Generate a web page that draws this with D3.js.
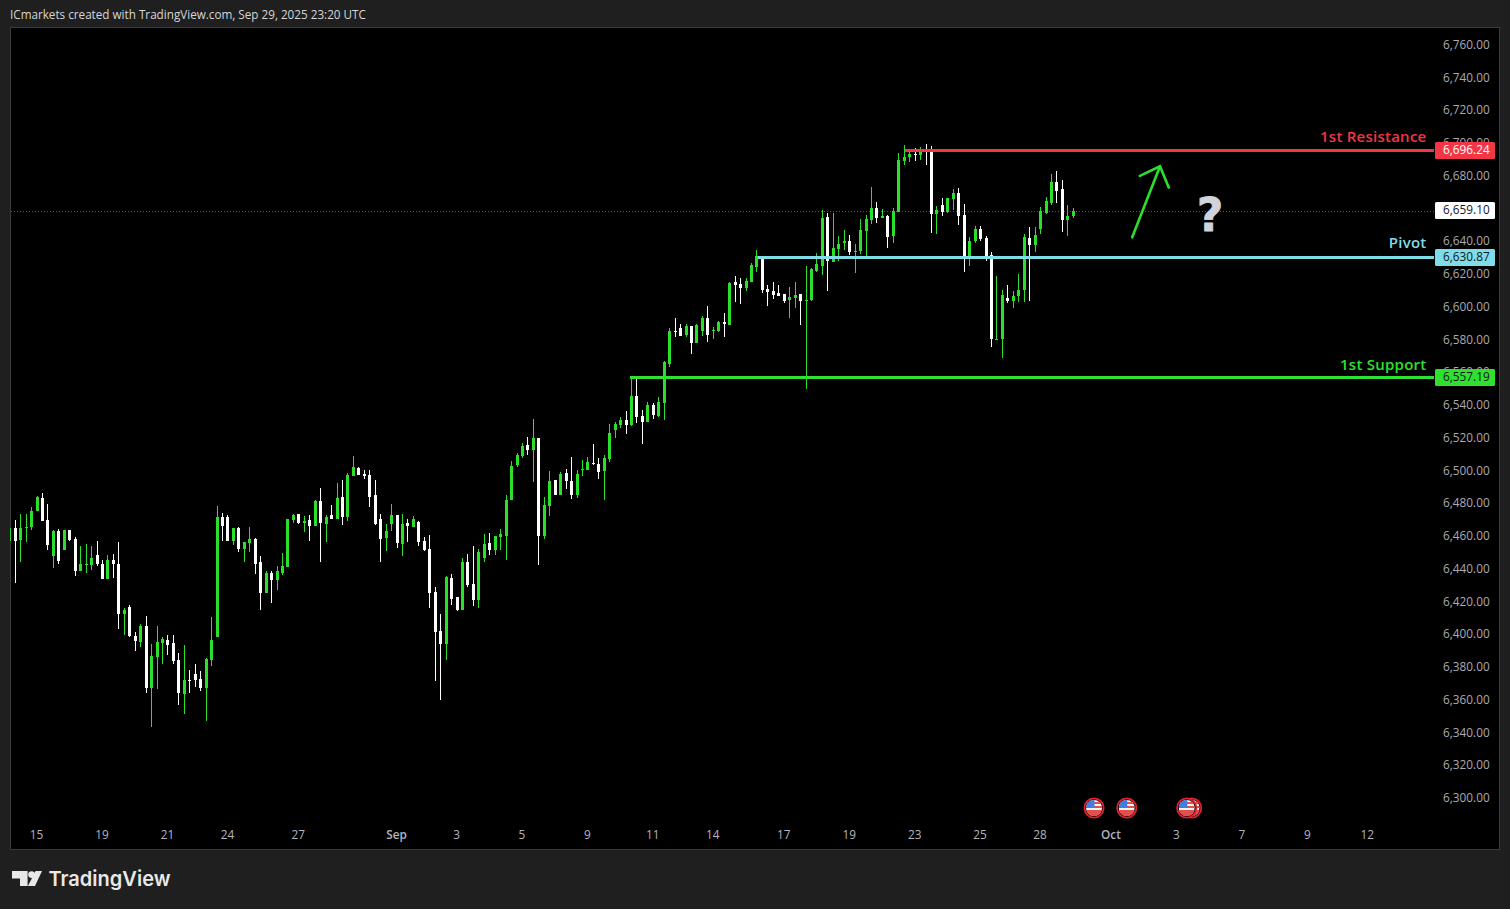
<!DOCTYPE html>
<html><head><meta charset="utf-8">
<script src="https://cdn.jsdelivr.net/npm/d3@7"></script>
<style>
html,body{margin:0;padding:0;background:#1f1f1f;overflow:hidden}
svg{display:block}
text{font-family:"Open Sans","Noto Sans",sans-serif}
</style></head><body><svg id="c" width="1510" height="909"></svg>
<script>
const opens=[6457.5,6465.4,6458.1,6465.4,6466.0,6475.8,6483.7,6470.3,6448.3,6463.6,
6452.0,6464.2,6458.7,6439.1,6442.8,6442.8,6448.9,6443.4,6434.3,6445.9,
6443.4,6412.9,6417.2,6399.5,6395.8,6405.6,6367.7,6386.6,6395.2,6397.0,
6395.2,6384.8,6364.1,6372.6,6376.3,6373.2,6367.7,6384.8,6398.9,6472.1,
6472.1,6457.5,6465.4,6452.6,6456.3,6458.7,6444.7,6425.8,6438.0,6433.7,
6438.0,6441.7,6470.4,6474.0,6468.5,6470.4,6466.7,6482.0,6467.9,6473.4,
6471.0,6484.4,6472.2,6497.2,6502.1,6498.4,6497.8,6485.6,6471.0,6459.3,
6467.9,6473.4,6455.7,6468.5,6466.0,6469.1,6457.5,6452.6,6426.4,6402.6,
6394.6,6434.9,6423.3,6415.4,6444.7,6431.3,6421.5,6447.1,6456.3,6452.0,
6460.0,6460.6,6482.6,6503.9,6509.4,6516.1,6513.1,6520.4,6460.6,6478.9,
6494.8,6485.6,6499.0,6494.2,6485.6,6500.9,6500.9,6505.1,6504.5,6500.3,
6507.6,6525.3,6528.3,6531.4,6528.3,6546.0,6533.8,6530.1,6540.5,6533.8,
6541.8,6565.6,6585.7,6587.5,6583.3,6588.8,6578.4,6585.7,6593.6,6585.7,
6585.7,6591.2,6589.4,6615.6,6614.4,6612.0,6615.6,6624.8,6630.3,6611.4,
6610.1,6608.9,6608.3,6604.6,6605.9,6608.3,6604.0,6604.6,6622.3,6625.4,
6655.3,6627.8,6635.8,6639.4,6640.6,6633.9,6634.5,6646.7,6653.5,6660.8,
6654.7,6655.9,6643.7,6658.3,6689.5,6691.9,6693.8,6693.1,6695.6,6695.6,
6657.1,6662.6,6658.3,6666.3,6670.0,6656.5,6630.3,6640.6,6648.0,6642.5,
6632.1,6580.2,6580.8,6605.9,6604.0,6607.1,6610.7,6642.5,6638.2,6648.0,
6657.7,6663.8,6676.7,6672.4,6653.5,6655.9];
const closes=[6465.2,6457.5,6465.4,6466.0,6475.8,6484.3,6469.7,6455.0,6463.6,6445.2,
6464.2,6458.1,6439.1,6443.4,6443.4,6447.1,6443.4,6434.3,6445.9,6443.4,
6412.9,6415.3,6399.5,6396.4,6405.6,6367.7,6387.3,6395.8,6397.6,6394.0,
6384.2,6364.7,6372.6,6372.0,6372.6,6367.7,6385.4,6397.0,6472.1,6466.6,
6457.5,6465.4,6452.6,6456.9,6458.7,6443.5,6425.8,6438.0,6433.7,6439.2,
6442.2,6471.0,6473.4,6468.5,6469.8,6466.7,6482.0,6468.5,6472.2,6471.0,
6483.8,6472.2,6497.8,6502.7,6497.8,6497.2,6484.4,6467.9,6458.7,6463.6,
6473.4,6456.3,6467.9,6466.7,6471.0,6456.9,6452.0,6425.8,6402.0,6394.6,
6435.5,6422.1,6415.4,6444.7,6430.7,6421.5,6450.8,6455.7,6452.0,6460.6,
6461.8,6482.6,6503.3,6510.0,6515.5,6513.1,6520.4,6460.6,6479.5,6494.2,
6485.6,6498.4,6494.2,6485.6,6498.4,6501.5,6505.8,6504.5,6499.6,6508.2,
6523.5,6529.0,6531.4,6528.3,6546.0,6533.2,6530.1,6540.5,6534.4,6542.4,
6566.8,6585.7,6585.1,6582.6,6588.8,6578.4,6589.4,6593.6,6583.3,6586.3,
6591.2,6590.0,6615.0,6613.8,6612.0,6616.2,6626.0,6631.5,6610.7,6609.5,
6607.7,6607.1,6604.0,6606.4,6607.7,6604.0,6604.6,6623.6,6626.6,6654.7,
6628.4,6636.4,6638.8,6640.6,6633.9,6634.5,6647.4,6654.1,6660.8,6654.7,
6655.9,6643.1,6659.0,6690.1,6691.9,6693.8,6693.1,6695.6,6695.0,6657.1,
6659.6,6658.3,6666.9,6670.0,6655.9,6630.3,6640.6,6648.0,6641.9,6631.5,
6580.8,6580.8,6607.7,6604.0,6607.1,6610.7,6643.1,6638.2,6644.3,6659.0,
6665.1,6676.7,6671.2,6653.5,6655.9,6659.1];
const highs=[6465.2,6470.3,6473.9,6473.9,6478.0,6484.9,6486.8,6480.0,6464.2,6464.8,
6464.2,6464.2,6459.9,6454.4,6455.6,6454.4,6457.5,6445.9,6448.9,6449.5,
6456.8,6416.6,6418.4,6401.9,6406.8,6411.7,6394.6,6405.6,6398.9,6400.1,
6400.1,6389.1,6394.0,6378.7,6382.4,6378.1,6386.0,6411.1,6478.8,6474.6,
6473.3,6465.4,6466.0,6456.9,6466.0,6459.3,6448.3,6439.2,6439.2,6442.2,
6450.2,6471.0,6474.0,6474.0,6472.8,6473.4,6482.6,6489.9,6473.4,6479.5,
6493.0,6494.8,6499.0,6509.4,6502.7,6500.9,6500.9,6494.8,6474.0,6467.9,
6480.1,6473.4,6474.0,6471.0,6472.8,6469.7,6459.9,6461.2,6429.4,6413.0,
6436.2,6437.4,6423.3,6447.1,6449.6,6454.5,6452.6,6461.8,6462.4,6460.6,
6464.9,6485.6,6506.4,6511.2,6517.4,6521.0,6532.0,6520.4,6484.4,6500.3,
6494.8,6499.6,6501.5,6508.8,6500.9,6507.0,6508.8,6516.7,6508.2,6510.0,
6529.0,6530.2,6533.2,6536.9,6557.6,6557.6,6537.5,6542.4,6541.8,6545.4,
6567.4,6587.5,6593.6,6590.0,6590.0,6588.8,6590.0,6594.9,6601.0,6588.1,
6591.8,6596.7,6615.6,6619.3,6618.0,6618.0,6627.2,6635.2,6630.9,6613.8,
6615.6,6613.8,6608.3,6612.6,6615.6,6608.3,6625.4,6624.2,6633.3,6659.6,
6657.7,6657.7,6643.7,6647.4,6644.3,6638.8,6654.1,6656.5,6673.6,6664.4,
6660.2,6656.5,6660.8,6694.4,6699.2,6696.8,6697.4,6698.0,6699.9,6698.6,
6662.0,6666.9,6666.9,6672.4,6673.0,6663.2,6643.1,6649.8,6649.8,6643.7,
6633.9,6619.3,6610.7,6613.8,6610.1,6620.5,6644.9,6649.2,6649.2,6661.4,
6667.5,6681.6,6683.4,6677.9,6662.6,6660.8];
const lows=[6457.5,6432.0,6444.8,6456.8,6464.2,6475.8,6469.7,6452.0,6441.0,6443.4,
6452.0,6457.5,6436.1,6439.1,6437.9,6439.8,6442.2,6434.3,6434.3,6434.9,
6403.7,6400.1,6398.9,6390.3,6392.7,6364.7,6343.9,6367.1,6382.4,6387.9,
6382.4,6357.3,6351.8,6364.7,6368.3,6365.9,6347.6,6381.1,6398.9,6457.5,
6457.5,6455.1,6450.8,6444.7,6450.8,6437.4,6415.4,6425.8,6419.7,6427.6,
6436.8,6441.7,6468.5,6467.9,6463.0,6457.5,6466.7,6444.7,6456.9,6471.0,
6471.0,6467.3,6469.7,6497.2,6497.8,6495.4,6478.3,6467.3,6444.7,6451.4,
6463.6,6453.2,6448.3,6456.9,6466.0,6454.4,6451.4,6416.6,6372.1,6360.5,
6384.9,6418.5,6414.8,6415.4,6429.4,6417.8,6416.6,6444.7,6449.0,6449.0,
6452.0,6445.9,6482.6,6502.7,6508.2,6510.0,6493.5,6442.9,6458.7,6472.8,
6485.6,6485.6,6489.3,6483.2,6483.8,6497.2,6500.9,6503.9,6495.4,6482.6,
6505.8,6520.4,6526.5,6522.8,6527.7,6529.5,6516.7,6530.1,6532.0,6533.2,
6531.4,6563.7,6582.0,6582.6,6582.0,6571.7,6578.4,6582.6,6579.0,6580.8,
6585.1,6582.0,6589.4,6603.4,6602.2,6610.1,6615.6,6621.7,6608.9,6601.0,
6605.2,6607.1,6602.8,6593.6,6599.7,6589.4,6550.3,6604.0,6621.7,6619.9,
6610.1,6627.8,6628.4,6635.1,6632.1,6621.1,6632.7,6629.7,6651.0,6651.6,
6654.7,6636.4,6639.4,6658.3,6687.0,6688.9,6689.5,6690.1,6687.0,6645.5,
6644.9,6655.9,6657.7,6659.6,6650.4,6621.7,6625.4,6639.4,6640.6,6628.4,
6575.9,6580.2,6569.2,6602.8,6599.7,6603.4,6603.4,6604.0,6633.9,6644.9,
6657.1,6662.6,6663.8,6646.1,6643.7,6654.7];

const priceTicks=d3.range(6300,6761,20);
const tickBars=[5,17,29,40,53,71,82,94,106,118,129,142,154,166,178,189,202,214,226,238,249];
const tickLabels=["15","19","21","24","27","Sep","3","5","9","11","14","17","19","23","25","28","Oct","3","7","9","12"];
const levelNames=["1st Resistance","Pivot","1st Support"];
const levelPrices=[6696.24,6630.87,6557.19];
const levelStartBars=[164.1,137.2,113.7];
const levelColors=["#f23645","#7fdde9","#2fe02f"];
const levelTextColors=["#ffffff","#131722","#131722"];
const lastPrice=6659.10;
const eventBars=[216.7,198.8,204.8,215.8];
const arrowBars=[205.8,210.9,207.2,212.5];
const arrowPrices=[6642.9,6686.3,6680.4,6673.3];

const GREEN="#2be02b";
const svg=d3.select("#c");
const x=d3.scaleLinear().domain([0,195]).range([9.8,1073.3]);
const y=d3.scaleLinear().domain([6760,6300]).range([45.5,799]);
const col=i=>Math.floor(x(i));
const row=v=>Math.round(y(v));
const lrow=v=>Math.round(y(v)-0.3);

const defs=svg.append("defs");
defs.append("clipPath").attr("id","pane").append("rect").attr("x",10).attr("y",28).attr("width",1489).attr("height",821);
defs.append("clipPath").attr("id","flag").append("circle").attr("r",8);

svg.append("rect").attr("width",1510).attr("height",909).attr("fill","#1f1f1f");
svg.append("rect").attr("x",10.5).attr("y",27.5).attr("width",1489).attr("height",822).attr("fill","#000").attr("stroke","#3a3a3a");

svg.append("text").attr("x",10).attr("y",19).attr("fill","#d6d6d6").attr("font-size",11.7)
  .attr("font-weight",500)
  .text("ICmarkets created with TradingView.com, Sep 29, 2025 23:20 UTC");

// axes
const ya=svg.append("g").attr("transform","translate(1443,-0.2)")
  .call(d3.axisRight(y).tickValues(priceTicks).tickSize(0).tickPadding(0).tickFormat(d3.format(",.2f")));
ya.select(".domain").remove();
ya.selectAll("text").attr("fill","#a9abb2").attr("font-size",11.8).attr("dy","0.25em");

const xa=svg.append("g").attr("transform","translate(-1,836)")
  .call(d3.axisBottom(x).tickValues(tickBars).tickSize(0).tickPadding(0).tickFormat((d,i)=>tickLabels[i]));
xa.select(".domain").remove();
xa.selectAll("text").attr("fill","#b2b5be").attr("font-size",11.8).attr("dy","0.25em")
  .attr("font-weight",(d,i)=>/[A-Za-z]/.test(tickLabels[i])?600:400);

const pane=svg.append("g").attr("clip-path","url(#pane)");

// last price dotted line
pane.append("line").attr("x1",11).attr("x2",1434).attr("y1",row(lastPrice)+.5).attr("y2",row(lastPrice)+.5)
  .attr("stroke","#5a5a5a").attr("stroke-dasharray","1 2");

// candles
const idx=d3.range(opens.length);
const color=i=>closes[i]>=opens[i]?GREEN:"#ffffff";
pane.append("g").selectAll("rect").data(idx).join("rect")
  .attr("x",col).attr("width",1).attr("y",i=>row(highs[i])).attr("height",i=>Math.max(1,row(lows[i])-row(highs[i])))
  .attr("fill",color).attr("shape-rendering","crispEdges");
pane.append("g").selectAll("rect").data(idx).join("rect")
  .attr("x",i=>col(i)-1).attr("width",3)
  .attr("y",i=>row(Math.max(opens[i],closes[i])))
  .attr("height",i=>Math.max(1,row(Math.min(opens[i],closes[i]))-row(Math.max(opens[i],closes[i]))))
  .attr("fill",color).attr("shape-rendering","crispEdges");

// levels
const lv=d3.range(levelNames.length);
const levelTextRise=[8,9,7];
svg.append("g").selectAll("rect").data(lv).join("rect")
  .attr("x",i=>x(levelStartBars[i])).attr("width",i=>1434-x(levelStartBars[i]))
  .attr("y",i=>lrow(levelPrices[i])-1).attr("height",3).attr("fill",i=>levelColors[i]).attr("shape-rendering","crispEdges");
svg.append("g").selectAll("text").data(lv).join("text")
  .attr("x",1426.5).attr("y",i=>lrow(levelPrices[i])-levelTextRise[i]).attr("text-anchor","end")
  .attr("font-size",15).attr("font-weight",600).attr("letter-spacing",0.25).attr("fill",i=>levelColors[i]).text(i=>levelNames[i]);

// arrow
const pt=i=>[x(arrowBars[i]),y(arrowPrices[i])];
const arrowLine=d3.line();
svg.append("path").attr("d",arrowLine([pt(0),pt(1)])).attr("stroke",GREEN).attr("stroke-width",2.6).attr("fill","none").attr("stroke-linecap","round");
svg.append("path").attr("d",arrowLine([pt(2),pt(1),pt(3)])).attr("stroke",GREEN).attr("stroke-width",2.6).attr("fill","none").attr("stroke-linecap","round");

// question mark
svg.append("text").attr("x",1210).attr("y",231).attr("text-anchor","middle").attr("font-size",46).attr("font-weight",700)
  .attr("fill","#d1d4dc").attr("stroke","#d1d4dc").attr("stroke-width",0.8).attr("stroke-linejoin","round")
  .style("font-family","'DejaVu Sans',sans-serif").text("?");

// price labels
const lab=svg.append("g");
function priceLabel(v,bg,fg){
  const r=lrow(v);
  lab.append("rect").attr("x",1435).attr("width",60).attr("y",r-8).attr("height",17).attr("rx",1.5).attr("fill",bg);
  lab.append("text").attr("x",1443).attr("y",r+4).attr("font-size",11.8).attr("font-weight",500).attr("fill",fg).text(d3.format(",.2f")(v));
}
lv.forEach(i=>priceLabel(levelPrices[i],levelColors[i],levelTextColors[i]));
priceLabel(lastPrice,"#ffffff","#131722");

// economic event flags
const ev=svg.append("g").selectAll("g").data(eventBars).join("g").attr("transform",d=>`translate(${x(d)},808)`);
ev.append("circle").attr("r",9.6).attr("fill","#000").attr("stroke","#e5202e").attr("stroke-width",1.8);
const fl=ev.append("g").attr("clip-path","url(#flag)");
fl.append("rect").attr("x",-8).attr("y",-8).attr("width",16).attr("height",16).attr("fill","#f2f2f2");
fl.selectAll("rect.s").data(d3.range(4)).join("rect").attr("class","s").attr("x",-8).attr("width",16).attr("y",d=>-6+d*4).attr("height",2).attr("fill","#e0504f");
fl.append("rect").attr("x",-8).attr("y",-8).attr("width",8.5).attr("height",8).attr("fill","#3f7fe0");
fl.append("rect").attr("x",-8).attr("y",4).attr("width",16).attr("height",4).attr("fill","#e0504f");

// logo
const logo=svg.append("g").attr("fill","#e8e8e8");
logo.append("path").attr("d","M12 871H27.6V886H20V878.4H12Z");
logo.append("circle").attr("cx",31.6).attr("cy",874.6).attr("r",3.4);
logo.append("path").attr("d","M35.6 871H42L35 886H27.9Z");
svg.append("text").attr("x",48.5).attr("y",886).attr("font-size",20.5).attr("font-weight",600).attr("fill","#e8e8e8")
  .style("font-family","Inter,'Open Sans',sans-serif").attr("textLength",122).attr("lengthAdjust","spacingAndGlyphs").text("TradingView");
</script></body></html>
